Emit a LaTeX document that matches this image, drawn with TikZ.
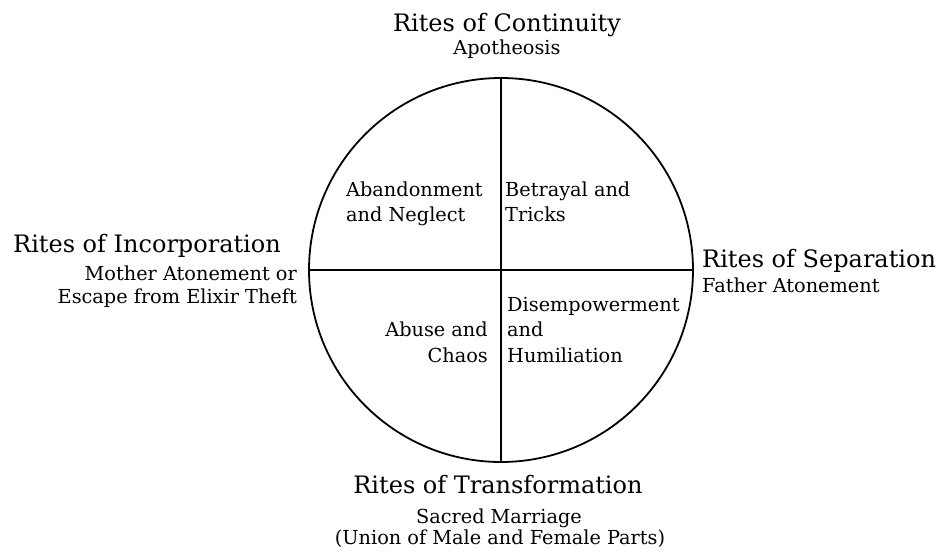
\documentclass[tikz,border=0pt]{standalone}
\usepackage{fontspec}
\setmainfont{DejaVu Serif}
\usepackage{tikz}

\tikzset{
	rite/.style={inner sep=0pt, font=\fontsize{24}{28}\selectfont},
	ritesub/.style={inner sep=0pt, font=\fontsize{19.3}{22}\selectfont},
	quad/.style={inner sep=0pt, font=\fontsize{19.3}{25}\selectfont}
}

\begin{document}
\begin{tikzpicture}[x=1pt,y=-1pt]
		\useasboundingbox (0,0) rectangle (943,556);

		\node[shape=circle, draw, line width=1.8pt, minimum size=384pt] (wheel) at (501,270) {};

		\path [-, line width=1.8pt] (wheel.north) edge (wheel.south);
		\path [-, line width=1.8pt] (wheel.west) edge (wheel.east);

		\node[rite, anchor=base] (cont) at (507,32) {Rites of Continuity};
		\node[ritesub, anchor=base] (apoth) at (507,55) {Apotheosis};

		\node[rite, anchor=base] (trans) at (498,493) {Rites of Transformation};
		\node[ritesub, anchor=base] (sacred) at (499,523) {Sacred Marriage};
		\node[ritesub, anchor=base] (union) at (500,544) {(Union of Male and Female Parts)};

		\node[rite, anchor=base west] (incorp) at (13,253) {Rites of Incorporation};
		\node[ritesub, anchor=base east] (mother) at (297,281) {Mother Atonement or};
		\node[ritesub, anchor=base east] (escape) at (297,303) {Escape from Elixir Theft};

		\node[rite, anchor=base west] (separ) at (702,268) {Rites of Separation};
		\node[ritesub, anchor=base west] (father) at (702,293) {Father Atonement};

		\node[quad, anchor=base west] (aband) at (346,197) {Abandonment};
		\node[quad, anchor=base west] (neglect) at (346,222) {and Neglect};

		\node[quad, anchor=base west] (betray) at (505,197) {Betrayal and};
		\node[quad, anchor=base west] (tricks) at (505,222) {Tricks};

		\node[quad, anchor=base east] (abuse) at (488,337) {Abuse and};
		\node[quad, anchor=base east] (chaos) at (488,362) {Chaos};

		\node[quad, anchor=base west] (disemp) at (507,312) {Disempowerment};
		\node[quad, anchor=base west] (andh) at (507,337) {and};
		\node[quad, anchor=base west] (humil) at (507,362) {Humiliation};
	\end{tikzpicture}
\end{document}
